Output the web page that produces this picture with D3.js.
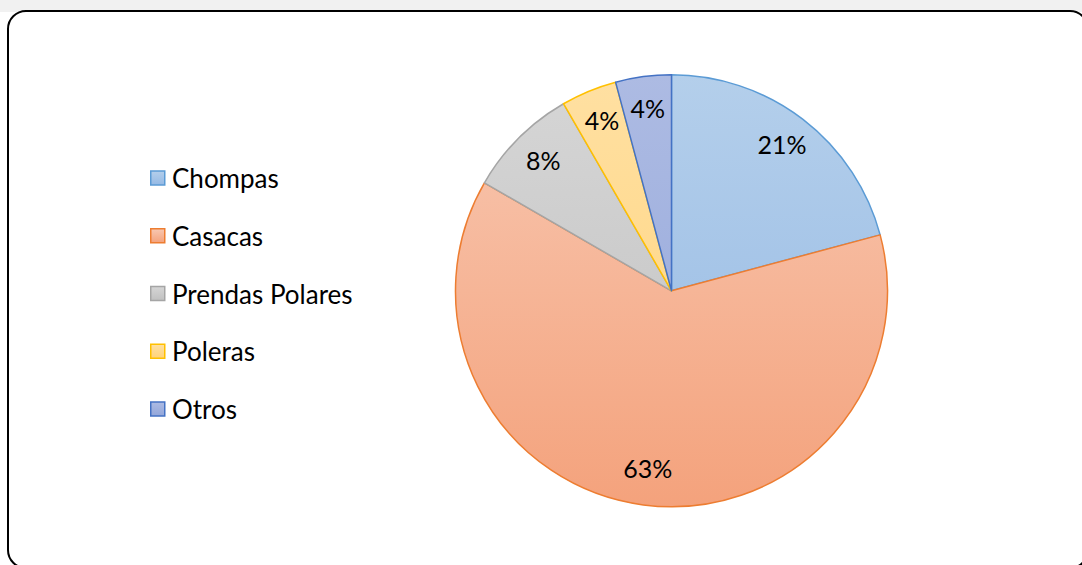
<!DOCTYPE html>
<html>
<head>
<meta charset="utf-8">
<script src="https://cdn.jsdelivr.net/npm/d3@7"></script>
<style>
  html, body { margin: 0; padding: 0; background: #ffffff; }
  svg { display: block; }
  text { font-family: Lato, "Open Sans", sans-serif; fill: #000; }
</style>
</head>
<body>
<svg id="chart" width="1082" height="565"></svg>
<script>
// Garment categories and their counts
const categories = ["Chompas", "Casacas", "Prendas Polares", "Poleras", "Otros"];
const counts = [5, 15, 2, 1, 1];

// Slice colours: outline, light (top) and dark (bottom) gradient stops
const strokeColors = ["#5b9bd5", "#ed7d31", "#a5a5a5", "#ffc000", "#4472c4"];
const lightColors = ["#b4cfeb", "#f8c8b2", "#d6d6d6", "#ffe0a2", "#adbbe3"];
const darkColors = ["#95b9e4", "#f4a27c", "#c0c0c0", "#ffd37a", "#93a6da"];

const W = 1082, H = 565;
const svg = d3.select("#chart");

// faint page band above the frame
svg.append("rect").attr("x", 0).attr("y", 0).attr("width", W).attr("height", 12)
  .attr("fill", "#f1f1f1");

// rounded chart frame
svg.append("rect")
  .attr("x", 8).attr("y", 11).attr("width", 1080).attr("height", 557)
  .attr("rx", 18).attr("ry", 18)
  .attr("fill", "#ffffff").attr("stroke", "#000").attr("stroke-width", 2);

const cx = 671.5, cy = 290.8, R = 216;
const total = d3.sum(counts);
const data = categories.map((c, i) => ({ name: c, value: counts[i], i }));

// vertical gradients spanning the whole pie (local pie coordinates)
const defs = svg.append("defs");
data.forEach(d => {
  const g = defs.append("linearGradient")
    .attr("id", "grad" + d.i)
    .attr("gradientUnits", "userSpaceOnUse")
    .attr("x1", 0).attr("y1", -R).attr("x2", 0).attr("y2", R);
  g.append("stop").attr("offset", "0%").attr("stop-color", lightColors[d.i]);
  g.append("stop").attr("offset", "100%").attr("stop-color", darkColors[d.i]);

  const lgGrad = defs.append("linearGradient").attr("id", "lg" + d.i)
    .attr("x1", 0).attr("y1", 0).attr("x2", 0).attr("y2", 1);
  lgGrad.append("stop").attr("offset", "0%").attr("stop-color", lightColors[d.i]);
  lgGrad.append("stop").attr("offset", "100%").attr("stop-color", darkColors[d.i]);
});

const pie = d3.pie().value(d => d.value).sort(null);
const arc = d3.arc().innerRadius(0).outerRadius(R);
const labelArc = d3.arc().innerRadius(R * 0.84).outerRadius(R * 0.84);
const arcs = pie(data);

const g = svg.append("g").attr("transform", `translate(${cx},${cy})`);

g.selectAll("path.slice")
  .data(arcs)
  .join("path")
  .attr("class", "slice")
  .attr("d", arc)
  .attr("fill", d => `url(#grad${d.data.i})`)
  .attr("stroke", d => strokeColors[d.data.i])
  .attr("stroke-width", 1.5)
  .attr("stroke-linejoin", "round");

// percentage labels
g.selectAll("text.pct")
  .data(arcs)
  .join("text")
  .attr("class", "pct")
  .attr("transform", d => `translate(${labelArc.centroid(d)})`)
  .attr("text-anchor", "middle")
  .attr("dominant-baseline", "central")
  .attr("dy", -3)
  .style("font-size", "25px")
  .text(d => Math.round(d.data.value / total * 100) + "%");

// legend
const legendY = d3.scalePoint().domain(categories).range([178, 409]);
const rows = svg.append("g").selectAll("g.row").data(data).join("g")
  .attr("class", "row")
  .attr("transform", d => `translate(150,${legendY(d.name)})`);
rows.append("rect")
  .attr("x", 0.75).attr("y", -7).attr("width", 14).attr("height", 14)
  .attr("fill", d => `url(#lg${d.i})`)
  .attr("stroke", d => strokeColors[d.i]).attr("stroke-width", 1.5);
rows.append("text")
  .attr("x", 22).attr("y", 0)
  .attr("dominant-baseline", "central")
  .style("font-size", "26px")
  .text(d => d.name);
</script>
</body>
</html>
